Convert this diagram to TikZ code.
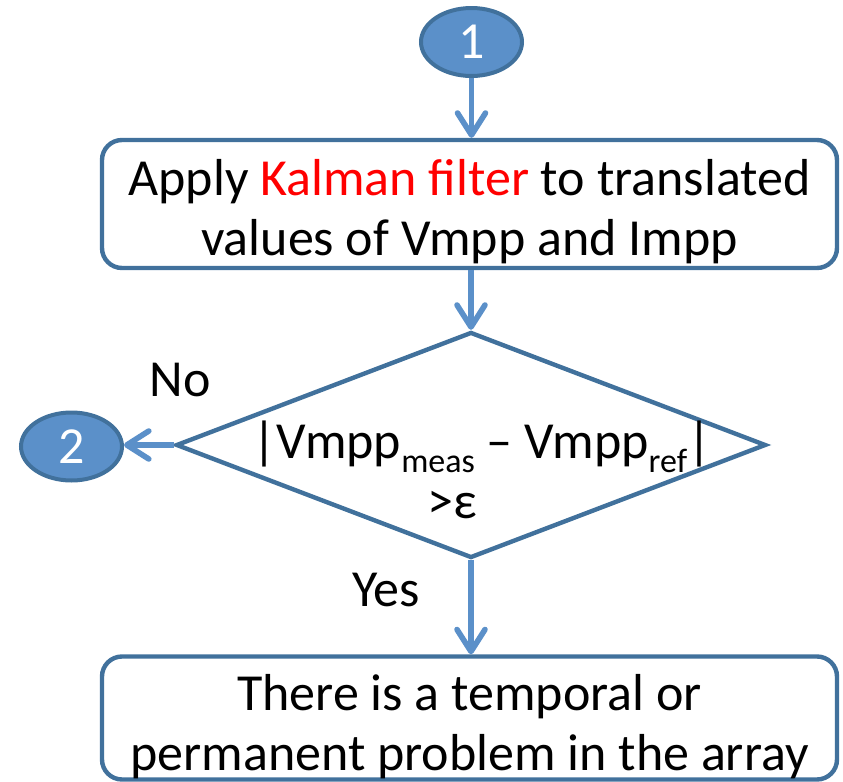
\documentclass[tikz,border=0pt]{standalone}
\usepackage{fontspec}
\setmainfont{Carlito}
\usetikzlibrary{arrows.meta,shapes.geometric}
\definecolor{flowline}{RGB}{65,113,156}
\definecolor{flowfill}{RGB}{91,144,201}
\newcommand{\sub}[1]{\raisebox{-7pt}{\fontsize{17}{17}\selectfont #1}}

\tikzset{
	stepbox/.style={draw=flowline, line width=2.2pt, rounded corners=10pt, fill=white, minimum width=367.5pt, inner sep=0pt, align=center},
	testbox/.style={draw=flowline, line width=2.2pt, diamond, minimum width=295pt, minimum height=113pt, inner sep=0pt},
	jumpnode/.style={draw=flowline, fill=flowfill, line width=2pt, ellipse, minimum width=50.5pt, minimum height=34pt, inner sep=0pt, text=white},
	flowarrow/.style={draw=flowfill, line width=2.8pt, -{Straight Barb[length=11pt,width=14pt,round]}}
}

\begin{document}
\begin{tikzpicture}[x=0.5pt, y=-0.5pt, font=\fontsize{26}{30}\selectfont]
			\useasboundingbox (0, 0) rectangle (843, 782);
			
			%%%%% SHAPES %%%%%
			
			\node[jumpnode] (jump1) at (471.5, 42) {1};
			\node[stepbox, minimum height=64pt] (kalman) at (469.5, 204) {\rule{0pt}{26pt}Apply \textcolor{red}{Kalman filter} to translated\\values of Vmpp and Impp};
			\node[testbox] (check) at (471, 445) {};
			\node[align=center] (checktext) at (482, 470) {|Vmpp\sub{meas} – Vmpp\sub{ref}|\\>ε\hspace*{30pt}};
			\node[jumpnode] (jump2) at (71.5, 446.5) {2};
			\node[stepbox, minimum height=61.5pt] (problem) at (469.5, 718) {\rule{0pt}{27pt}There is a temporal or\\permanent problem in the array};
			
			\node (no) at (180, 380) {No};
			\node (yes) at (386, 590) {Yes};
			
			%%%%% ARROWS %%%%%
			
			\draw[flowarrow] (jump1.south) -- (jump1.south |- kalman.north);
			\draw[flowarrow] (kalman.south -| check.north) -- (check.north);
			\draw[flowarrow] (check.west) -- (check.west -| jump2.east);
			\draw[flowarrow] (check.south) -- (check.south |- problem.north);
			
		\end{tikzpicture}
\end{document}
